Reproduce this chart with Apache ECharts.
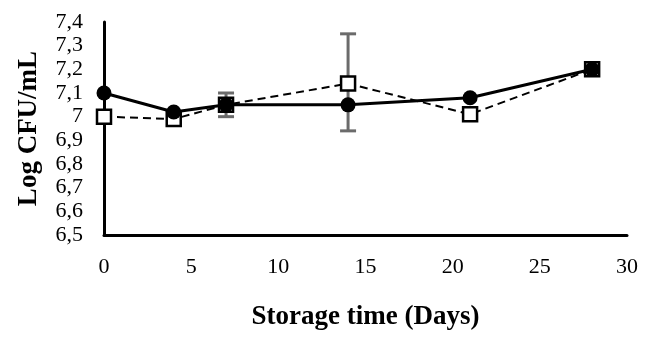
<!DOCTYPE html>
<html>
<head>
    <meta charset="utf-8">
    <title>Log CFU/mL</title>
    <script src="https://cdn.jsdelivr.net/npm/echarts@6/dist/echarts.min.js"></script>
    <style type="text/css">
        * { margin: 0; padding: 0; }
        #main { width: 650px; height: 340px; background: #fff; }
    </style>
</head>
<body>
<div id="main"></div>
<script type="text/javascript">
    // data
    var days = [0, 4, 7, 14, 21, 28];
    var solidVals = [7.10, 7.02, 7.05, 7.05, 7.08, 7.20];
    var dashVals = [7.00, 6.99, 7.05, 7.14, 7.01, 7.20];
    var errDays = [7, 14];
    var errLow = [7.00, 6.94];
    var errHigh = [7.10, 7.35];

    var myChart = echarts.init(document.getElementById('main'));
    var font = 'Liberation Serif';

    function pairs(xs, ys) {
        return xs.map(function (x, i) { return [x, ys[i]]; });
    }

    var errData = errDays.map(function (d, i) { return [d, errLow[i], errHigh[i]]; });

    option = {
        animation: false,
        grid: { left: 104, right: 23, top: 22, bottom: 105 },
        xAxis: {
            type: 'value',
            min: 0, max: 30, interval: 5,
            name: 'Storage time (Days)',
            nameLocation: 'middle',
            nameGap: 69,
            nameTextStyle: { fontFamily: font, fontSize: 27, fontWeight: 'bold', color: '#000' },
            axisLine: { lineStyle: { color: '#000', width: 3 } },
            axisTick: { show: false },
            splitLine: { show: false },
            axisLabel: { fontFamily: font, fontSize: 22, color: '#000', margin: 21 }
        },
        yAxis: {
            type: 'value',
            min: 6.5, max: 7.4, interval: 0.1,
            name: 'Log CFU/mL',
            nameLocation: 'middle',
            nameGap: 61,
            nameTextStyle: { fontFamily: font, fontSize: 27, fontWeight: 'bold', color: '#000' },
            axisLine: { show: true, lineStyle: { color: '#000', width: 3 } },
            axisTick: { show: false },
            splitLine: { show: false },
            axisLabel: {
                fontFamily: font, fontSize: 22, color: '#000', margin: 21,
                formatter: function (v) {
                    return String(Math.round(v * 10) / 10).replace('.', ',');
                }
            }
        },
        series: [
            {
                type: 'custom',
                data: errData,
                z: 1,
                renderItem: function (params, api) {
                    var x = api.value(0);
                    var lo = api.coord([x, api.value(1)]);
                    var hi = api.coord([x, api.value(2)]);
                    var w = 8;
                    var st = { stroke: '#6b6b6b', lineWidth: 3 };
                    return {
                        type: 'group',
                        children: [
                            { type: 'line', shape: { x1: lo[0], y1: lo[1], x2: hi[0], y2: hi[1] }, style: st },
                            { type: 'line', shape: { x1: lo[0] - w, y1: lo[1], x2: lo[0] + w, y2: lo[1] }, style: st },
                            { type: 'line', shape: { x1: hi[0] - w, y1: hi[1], x2: hi[0] + w, y2: hi[1] }, style: st }
                        ]
                    };
                }
            },
            {
                type: 'line',
                data: pairs(days, dashVals),
                z: 2,
                symbol: 'rect',
                symbolSize: 14,
                lineStyle: { color: '#000', width: 2, type: [8, 5] },
                itemStyle: { color: '#fff', borderColor: '#000', borderWidth: 2.5 }
            },
            {
                type: 'line',
                data: pairs(days, solidVals),
                z: 3,
                symbol: 'circle',
                symbolSize: 15,
                lineStyle: { color: '#000', width: 3 },
                itemStyle: { color: '#000', borderColor: '#000', borderWidth: 0 }
            }
        ]
    };

    myChart.setOption(option);
</script>
</body>
</html>
